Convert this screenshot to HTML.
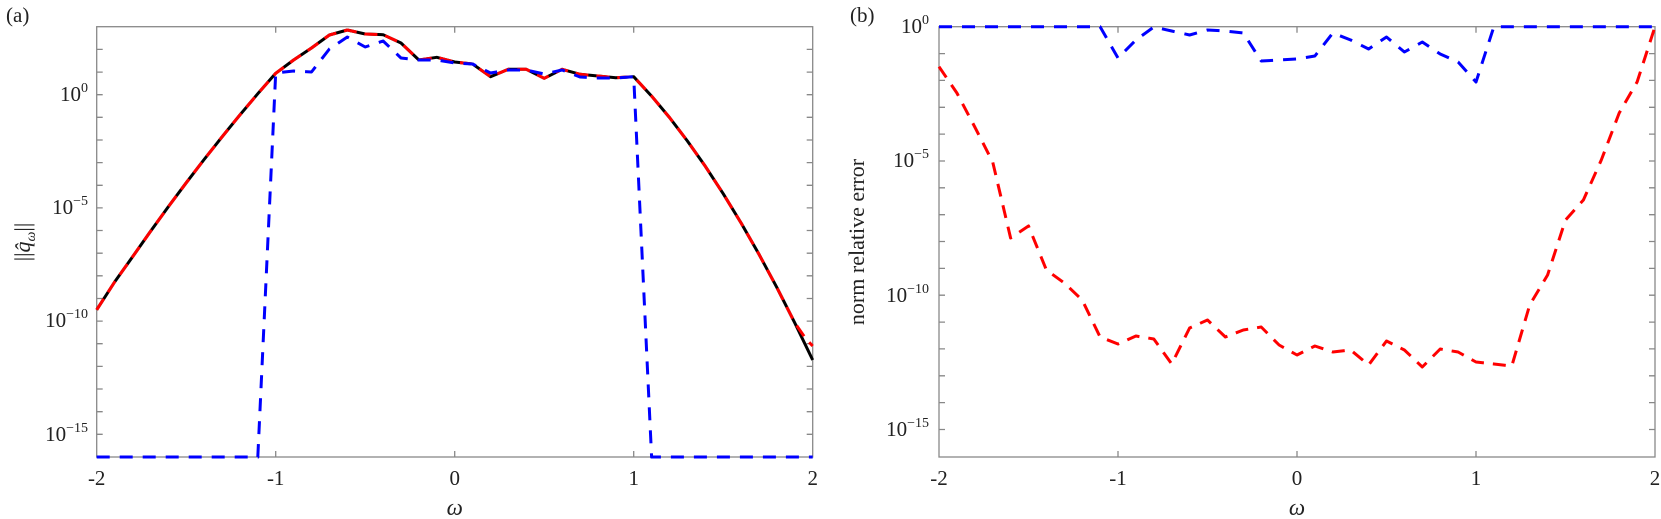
<!DOCTYPE html>
<html><head><meta charset="utf-8"><style>
html,body{margin:0;padding:0;background:#fff;}
svg{display:block;}
text{font-family:"Liberation Serif","DejaVu Serif",serif;fill:#222;}
</style></head><body>
<svg width="1661" height="519" viewBox="0 0 1661 519" xmlns="http://www.w3.org/2000/svg">
<text x="6" y="22" font-size="21">(a)</text>
<text x="850" y="22" font-size="21">(b)</text>

<!-- ===== Panel A ===== -->
<g stroke="#888" stroke-width="1.3" fill="none">
<rect x="96.7" y="26.7" width="716" height="430.3"/>
<path d="M275.7 457v-6M454.7 457v-6M633.7 457v-6M275.7 26.7v6M454.7 26.7v6M633.7 26.7v6"/>
<path d="M96.7 49.4h6M96.7 72.1h6M96.7 94.7h6M96.7 117.3h6M96.7 140h6M96.7 162.6h6M96.7 185.3h6M96.7 207.9h6M96.7 230.5h6M96.7 253.2h6M96.7 275.8h6M96.7 298.5h6M96.7 321.1h6M96.7 343.7h6M96.7 366.4h6M96.7 389h6M96.7 411.7h6M96.7 434.3h6
M812.7 49.4h-6M812.7 72.1h-6M812.7 94.7h-6M812.7 117.3h-6M812.7 140h-6M812.7 162.6h-6M812.7 185.3h-6M812.7 207.9h-6M812.7 230.5h-6M812.7 253.2h-6M812.7 275.8h-6M812.7 298.5h-6M812.7 321.1h-6M812.7 343.7h-6M812.7 366.4h-6M812.7 389h-6M812.7 411.7h-6M812.7 434.3h-6"/>
</g>
<g font-size="21" text-anchor="end">
<text x="88" y="101">10<tspan font-size="14" dy="-9">0</tspan></text>
<text x="88" y="214">10<tspan font-size="14" dy="-9">−5</tspan></text>
<text x="88" y="327">10<tspan font-size="14" dy="-9">−10</tspan></text>
<text x="88" y="441">10<tspan font-size="14" dy="-9">−15</tspan></text>
</g>
<g font-size="21" text-anchor="middle">
<text x="96.7" y="485">-2</text>
<text x="275.7" y="485">-1</text>
<text x="454.7" y="485">0</text>
<text x="633.7" y="485">1</text>
<text x="812.7" y="485">2</text>
<text x="454.7" y="515" font-style="italic" font-size="23">ω</text>
</g>
<g transform="translate(30,242) rotate(-90)">
<text x="0" y="0" font-size="22" text-anchor="middle">||<tspan font-style="italic">q̂</tspan><tspan font-style="italic" font-size="14" dy="5">ω</tspan><tspan dy="-5">||</tspan></text>
</g>

<g fill="none" stroke-width="3" stroke-linejoin="round">
<path stroke="#000" d="M96.7 309.8L114.6 282L132.5 256.9L150.4 231.5L168.3 206.8L186.2 182.8L204.1 159.5L222 136.9L239.9 114.9L257.8 93.7L275.7 73.3L293.6 60L311.5 48L329.4 35L347.3 30L365.2 34L383.1 34.7L401 43L418.9 60L436.8 57.3L454.7 62L472.6 64L490.5 76.7L508.4 69.3L526.3 69.3L544.2 78.3L562.1 69.3L580 74.3L597.9 76L615.8 77.7L633.7 76.7L651.6 96.1L669.5 117.5L687.4 141L705.3 166.3L723.2 193.7L741.1 223L759 254.3L776.9 287.6L794.8 322.9L812.7 360"/>
<path stroke="#f00" stroke-dasharray="13,8" d="M96.7 309.8L114.6 282L132.5 256.9L150.4 231.5L168.3 206.8L186.2 182.8L204.1 159.5L222 136.9L239.9 114.9L257.8 93.7L275.7 73.3L293.6 60L311.5 48L329.4 35L347.3 30L365.2 34L383.1 34.7L401 43L418.9 60L436.8 57.3L454.7 62L472.6 64L490.5 76.7L508.4 69.3L526.3 69.3L544.2 78.3L562.1 69.3L580 74.3L597.9 76L615.8 77.7L633.7 76.7L651.6 96.1L669.5 117.5L687.4 141L705.3 166.3L723.2 193.7L741.1 223L759 254.3L776.9 287.6L794.8 322.9L806 339L812.7 346"/>
<path stroke="#00f" stroke-dasharray="13,10" d="M96.7 457L257.8 457L275.7 73L293.6 71L311.5 72L329.4 49L347.3 37L365.2 47L383.1 41L401 58L418.9 60L436.8 60L454.7 63L472.6 64L490.5 73L508.4 70L526.3 70L544.2 74L562.1 70L580 77L597.9 78L615.8 78L633.7 76.7L651.6 457L812.7 457"/>
</g>

<!-- ===== Panel B ===== -->
<g stroke="#888" stroke-width="1.3" fill="none">
<rect x="939" y="26.7" width="716" height="430.3"/>
<path d="M1118 457v-6M1297 457v-6M1476 457v-6M1118 26.7v6M1297 26.7v6M1476 26.7v6"/>
<path d="M939 53.6h6M939 80.4h6M939 107.3h6M939 134.1h6M939 161h6M939 187.8h6M939 214.7h6M939 241.5h6M939 268.4h6M939 295.2h6M939 322.1h6M939 348.9h6M939 375.8h6M939 402.6h6M939 429.5h6
M1655 53.6h-6M1655 80.4h-6M1655 107.3h-6M1655 134.1h-6M1655 161h-6M1655 187.8h-6M1655 214.7h-6M1655 241.5h-6M1655 268.4h-6M1655 295.2h-6M1655 322.1h-6M1655 348.9h-6M1655 375.8h-6M1655 402.6h-6M1655 429.5h-6"/>
</g>
<g font-size="21" text-anchor="end">
<text x="929" y="33">10<tspan font-size="14" dy="-9">0</tspan></text>
<text x="929" y="167">10<tspan font-size="14" dy="-9">−5</tspan></text>
<text x="929" y="302">10<tspan font-size="14" dy="-9">−10</tspan></text>
<text x="929" y="436">10<tspan font-size="14" dy="-9">−15</tspan></text>
</g>
<g font-size="21" text-anchor="middle">
<text x="939" y="485">-2</text>
<text x="1118" y="485">-1</text>
<text x="1297" y="485">0</text>
<text x="1476" y="485">1</text>
<text x="1655" y="485">2</text>
<text x="1297" y="515" font-style="italic" font-size="23">ω</text>
</g>
<g transform="translate(864,242) rotate(-90)">
<text x="0" y="0" font-size="22" text-anchor="middle">norm relative error</text>
</g>

<g fill="none" stroke-width="3" stroke-linejoin="round">
<path stroke="#f00" stroke-dasharray="13,9" d="M939 66.7L956.9 93L974.8 127L992.7 162L1010.6 238L1028.5 226L1046.4 270L1064.3 283L1082.2 300L1100.1 337L1118 344L1135.9 336L1153.8 339L1171.7 364L1189.6 328L1207.5 320L1225.4 337L1243.3 330L1261.2 327L1279.1 345L1297 355L1314.9 346L1332.8 352L1350.7 350L1368.6 365L1386.5 341L1404.4 350L1422.3 367L1440.2 349L1458.1 352L1476 362L1493.9 364L1511.8 366L1529.7 305L1547.6 275L1565.5 220L1583.4 200L1601.3 160L1619.2 113L1637.1 82L1655 26.7"/>
<path stroke="#00f" stroke-dasharray="13,10" d="M939 26.7L1100.1 26.7L1118 58L1135.9 40L1153.8 27L1171.7 31L1189.6 35L1207.5 30L1225.4 31L1243.3 33L1261.2 61L1279.1 60L1297 59L1314.9 56L1332.8 33L1350.7 40L1368.6 49L1386.5 37L1404.4 52L1422.3 42L1440.2 54L1458.1 62L1476 82L1493.9 26.7L1655 26.7"/>
</g>
</svg>
</body></html>
